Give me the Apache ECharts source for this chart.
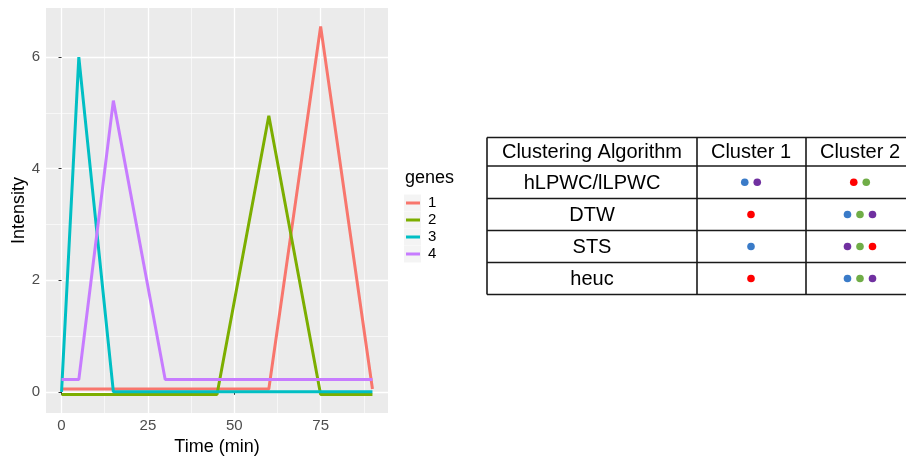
<!DOCTYPE html>
<html><head><meta charset="utf-8">
<script src="https://cdn.jsdelivr.net/npm/echarts@6/dist/echarts.min.js"></script>
<style>html,body{margin:0;padding:0;background:#fff}#c{width:906px;height:461px}</style>
</head><body><div id="c"></div>
<script>
// ---- data ----
const time  = [0, 5, 15, 30, 45, 60, 75, 90];
const gene1 = [0.05, 0.05, 0.05, 0.05, 0.05, 0.05, 6.55, 0.05];
const gene2 = [-0.05, -0.05, -0.05, -0.05, -0.05, 4.95, -0.05, -0.05];
const gene3 = [0, 6.0, 0, 0, 0, 0, 0, 0];
const gene4 = [0.22, 0.22, 5.22, 0.22, 0.22, 0.22, 0.22, 0.22];
const geneNames = ['1', '2', '3', '4'];
const xTicks = [0, 25, 50, 75];
const yTicks = [0, 2, 4, 6];
const xMinor = [12.5, 37.5, 62.5, 87.5];
const yMinor = [1, 3, 5];
const tableHeader = ['Clustering Algorithm', 'Cluster 1', 'Cluster 2'];
const algorithms = ['hLPWC/lLPWC', 'DTW', 'STS', 'heuc'];
const cluster1 = [['blue', 'purple'], ['red'], ['blue'], ['red']];
const cluster2 = [['red', 'green'], ['blue', 'green', 'purple'], ['purple', 'green', 'red'], ['blue', 'green', 'purple']];

// ---- styles ----
const geneColors = ['#F8766D', '#7CAE00', '#00BFC4', '#C77CFF'];
const dotColors = { blue: '#3A7BC8', purple: '#7030A0', red: '#FF0000', green: '#70AD47' };
const FONT = 'Liberation Sans';
const geneData = [gene1, gene2, gene3, gene4];

const chart = echarts.init(document.getElementById('c'), null, { renderer: 'canvas' });

// table graphics
const colX = [487, 697, 806, 914];
const rowY = [137.5, 166, 198.5, 230.5, 262.5, 294.5];
const g = [];
const lineStyle = { stroke: '#1a1a1a', lineWidth: 1.6 };
rowY.forEach(y => g.push({ type: 'line', shape: { x1: colX[0], y1: y, x2: colX[3], y2: y }, style: lineStyle }));
colX.forEach(x => g.push({ type: 'line', shape: { x1: x, y1: rowY[0], x2: x, y2: rowY[5] }, style: lineStyle }));
const colCenter = [592, 751, 860];
tableHeader.forEach((t, i) => g.push({ type: 'text', x: colCenter[i], y: (rowY[0] + rowY[1]) / 2 + 1,
  style: { text: t, font: '20px "' + FONT + '"', fill: '#000', align: 'center', verticalAlign: 'middle' } }));
const dotGap = 12.5;
function addDots(list, cx, cy) {
  const n = list.length;
  list.forEach((c, k) => {
    g.push({ type: 'circle', shape: { cx: cx + (k - (n - 1) / 2) * dotGap, cy: cy, r: 3.8 }, style: { fill: dotColors[c] } });
  });
}
algorithms.forEach((a, r) => {
  const cy = (rowY[r + 1] + rowY[r + 2]) / 2;
  g.push({ type: 'text', x: colCenter[0], y: cy + 1,
    style: { text: a, font: '20px "' + FONT + '"', fill: '#000', align: 'center', verticalAlign: 'middle' } });
  addDots(cluster1[r], colCenter[1], cy);
  addDots(cluster2[r], colCenter[2], cy);
});
// legend title and key backgrounds
g.push({ type: 'text', x: 405, y: 178, style: { text: 'genes', font: '18px "' + FONT + '"', fill: '#000', verticalAlign: 'middle' } });
geneNames.forEach((n, i) => g.push({ type: 'rect', z: -1, shape: { x: 404, y: 194.5 + i * 17, width: 17, height: 17 }, style: { fill: '#F4F4F4' } }));

const option = {
  animation: false,
  textStyle: { fontFamily: FONT },
  grid: { left: 46, right: 518, top: 8, bottom: 42, show: true, backgroundColor: '#EBEBEB', borderWidth: 0 },
  legend: {
    orient: 'vertical', left: 406, top: 194.5, padding: 0, itemGap: 0,
    icon: 'rect', itemWidth: 14, itemHeight: 3,
    textStyle: { fontSize: 15, color: '#000', lineHeight: 17, padding: [0, 0, 0, 3], fontFamily: FONT },
    data: geneNames
  },
  xAxis: [{
    type: 'value', min: -4.5, max: 94.5, position: 'bottom',
    name: 'Time (min)', nameLocation: 'middle', nameGap: 25,
    nameTextStyle: { fontSize: 18, color: '#000', fontFamily: FONT },
    axisLine: { show: false },
    axisTick: { show: true, length: 3, customValues: xTicks, lineStyle: { color: '#333', width: 1 } },
    axisLabel: { customValues: xTicks, fontSize: 15, color: '#4D4D4D', margin: 5, fontFamily: FONT },
    splitLine: { show: true, lineStyle: { color: '#FFFFFF', width: 1.3 } }
  }, {
    type: 'value', min: -4.5, max: 94.5, position: 'bottom',
    axisLine: { show: false }, axisLabel: { show: false },
    axisTick: { show: false, customValues: xMinor },
    splitLine: { show: true, lineStyle: { color: '#FFFFFF', width: 0.6 } }
  }],
  yAxis: [{
    type: 'value', min: -0.38, max: 6.88,
    name: 'Intensity', nameLocation: 'middle', nameGap: 16,
    nameTextStyle: { fontSize: 18, color: '#000', fontFamily: FONT },
    axisLine: { show: false },
    axisTick: { show: true, length: 3, customValues: yTicks, lineStyle: { color: '#333', width: 1 } },
    axisLabel: { customValues: yTicks, fontSize: 15, color: '#4D4D4D', margin: 6, fontFamily: FONT },
    splitLine: { show: true, lineStyle: { color: '#FFFFFF', width: 1.3 } }
  }, {
    type: 'value', min: -0.38, max: 6.88,
    axisLine: { show: false }, axisLabel: { show: false },
    axisTick: { show: false, customValues: yMinor },
    splitLine: { show: true, lineStyle: { color: '#FFFFFF', width: 0.6 } }
  }],
  series: geneNames.map((n, i) => ({
    name: n, type: 'line', xAxisIndex: 0, yAxisIndex: 0,
    data: time.map((t, k) => [t, geneData[i][k]]),
    showSymbol: false, symbol: 'none',
    lineStyle: { color: geneColors[i], width: 3 },
    itemStyle: { color: geneColors[i] }
  })),
  graphic: g
};
chart.setOption(option);
</script></body></html>
